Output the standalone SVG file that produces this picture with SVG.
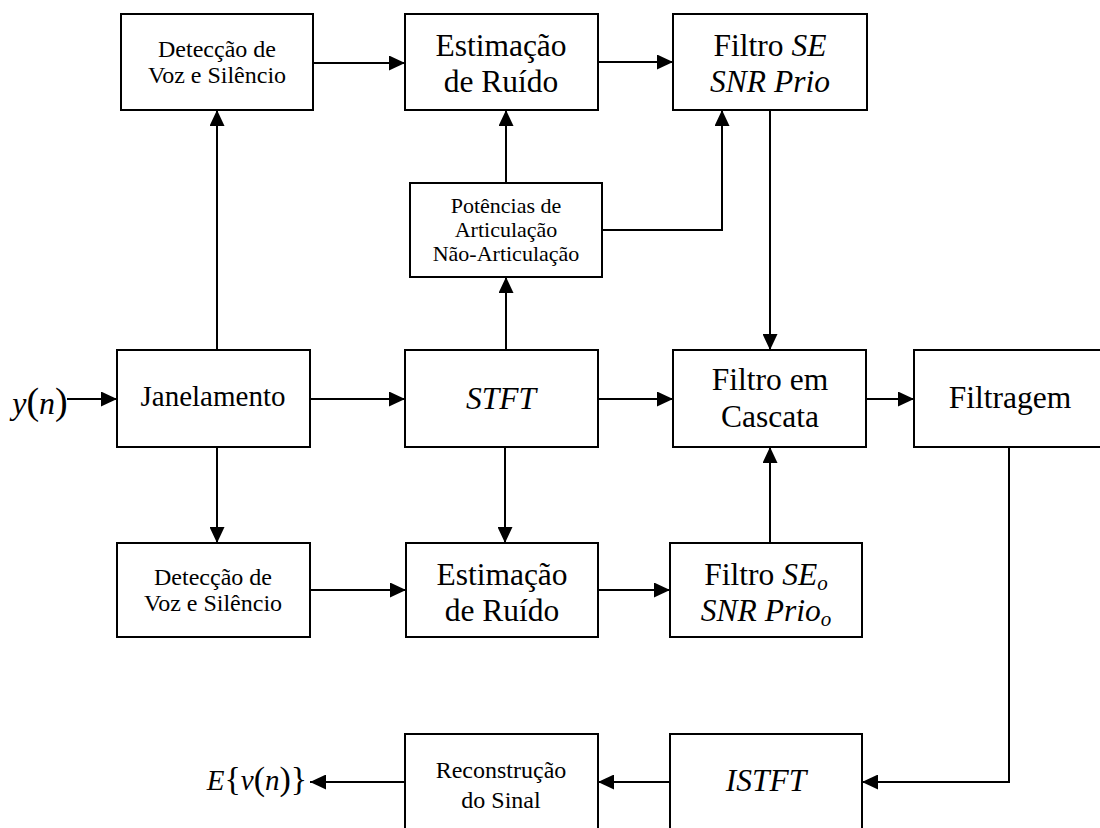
<svg xmlns="http://www.w3.org/2000/svg" width="1100" height="828" viewBox="0 0 1100 828">
  <defs>
    <marker id="arrow" markerUnits="userSpaceOnUse" markerWidth="16" markerHeight="15" refX="16" refY="7.5" orient="auto">
      <path d="M0,0 L16,7.5 L0,15 Z" fill="#000"/>
    </marker>
  </defs>

  <rect width="1100" height="828" fill="#fff"/>

  <!-- connectors: all 2px black with a filled arrowhead at the end -->
  <g id="connectors" fill="none" stroke="#000" stroke-width="2" marker-end="url(#arrow)">
    <line x1="67" y1="399" x2="117" y2="399"/>
    <line x1="310" y1="399" x2="405" y2="399"/>
    <line x1="598" y1="399" x2="673" y2="399"/>
    <line x1="866" y1="399" x2="914" y2="399"/>
    <line x1="217" y1="350" x2="217" y2="110"/>
    <line x1="217" y1="447" x2="217" y2="543"/>
    <line x1="313" y1="63" x2="405" y2="63"/>
    <line x1="598" y1="62" x2="673" y2="62"/>
    <line x1="506" y1="183" x2="506" y2="110"/>
    <line x1="506" y1="350" x2="506" y2="277"/>
    <polyline points="602,230 722,230 722,110"/>
    <line x1="770" y1="110" x2="770" y2="350"/>
    <line x1="505" y1="447" x2="505" y2="543"/>
    <line x1="310" y1="590" x2="406" y2="590"/>
    <line x1="598" y1="590" x2="670" y2="590"/>
    <line x1="770" y1="543" x2="770" y2="447"/>
    <polyline points="1009,447 1009,782 862,782"/>
    <line x1="670" y1="782" x2="598" y2="782"/>
    <line x1="405" y1="782" x2="310" y2="782"/>
  </g>

  <!-- signal in / estimate out -->
  <g id="input">
    <text font-family="Liberation Serif" text-anchor="middle" font-style="italic" font-size="32" x="40" y="414">y<tspan font-style="normal" font-size="38">(</tspan>n<tspan font-style="normal" font-size="38">)</tspan></text>
  </g>
  <g id="output">
    <text font-family="Liberation Serif" text-anchor="middle" font-style="italic" font-size="29" x="257" y="790">E<tspan font-style="normal" font-size="34">{</tspan>v<tspan font-style="normal" font-size="34">(</tspan>n<tspan font-style="normal" font-size="34">)}</tspan></text>
  </g>

  <!-- blocks: white boxes with 2px black outline -->
  <g id="vad-top">
    <rect fill="#fff" stroke="#000" stroke-width="2" x="121" y="14" width="192" height="96"/>
    <text font-family="Liberation Serif" text-anchor="middle" font-size="24" x="217" y="57">Detecção de</text>
    <text font-family="Liberation Serif" text-anchor="middle" font-size="24" x="217" y="83">Voz e Silêncio</text>
  </g>
  <g id="noise-top">
    <rect fill="#fff" stroke="#000" stroke-width="2" x="405" y="14" width="193" height="96"/>
    <text font-family="Liberation Serif" text-anchor="middle" font-size="31.5" x="501" y="56">Estimação</text>
    <text font-family="Liberation Serif" text-anchor="middle" font-size="31.5" x="501" y="92">de Ruído</text>
  </g>
  <g id="filter-se">
    <rect fill="#fff" stroke="#000" stroke-width="2" x="673" y="14" width="194" height="96"/>
    <text font-family="Liberation Serif" text-anchor="middle" font-size="31.5" x="770" y="56">Filtro <tspan font-style="italic">SE</tspan></text>
    <text font-family="Liberation Serif" text-anchor="middle" font-size="31.5" font-style="italic" x="770" y="92">SNR Prio</text>
  </g>
  <g id="powers">
    <rect fill="#fff" stroke="#000" stroke-width="2" x="410" y="183" width="192" height="94"/>
    <text font-family="Liberation Serif" text-anchor="middle" font-size="22" x="506" y="213">Potências de</text>
    <text font-family="Liberation Serif" text-anchor="middle" font-size="22" x="506" y="237">Articulação</text>
    <text font-family="Liberation Serif" text-anchor="middle" font-size="22" x="506" y="261">Não-Articulação</text>
  </g>
  <g id="windowing">
    <rect fill="#fff" stroke="#000" stroke-width="2" x="117" y="350" width="193" height="97"/>
    <text font-family="Liberation Serif" text-anchor="middle" font-size="29" x="213" y="406">Janelamento</text>
  </g>
  <g id="stft">
    <rect fill="#fff" stroke="#000" stroke-width="2" x="405" y="350" width="193" height="97"/>
    <text font-family="Liberation Serif" text-anchor="middle" font-size="31.5" font-style="italic" x="501" y="409">STFT</text>
  </g>
  <g id="cascade">
    <rect fill="#fff" stroke="#000" stroke-width="2" x="673" y="350" width="193" height="97"/>
    <text font-family="Liberation Serif" text-anchor="middle" font-size="31.5" x="770" y="390">Filtro em</text>
    <text font-family="Liberation Serif" text-anchor="middle" font-size="31.5" x="770" y="427">Cascata</text>
  </g>
  <g id="filtering">
    <rect fill="#fff" stroke="#000" stroke-width="2" x="914" y="350" width="193" height="97"/>
    <text font-family="Liberation Serif" text-anchor="middle" font-size="31.5" x="1010" y="408">Filtragem</text>
  </g>
  <g id="vad-bottom">
    <rect fill="#fff" stroke="#000" stroke-width="2" x="117" y="543" width="193" height="94"/>
    <text font-family="Liberation Serif" text-anchor="middle" font-size="24" x="213" y="585">Detecção de</text>
    <text font-family="Liberation Serif" text-anchor="middle" font-size="24" x="213" y="611">Voz e Silêncio</text>
  </g>
  <g id="noise-bottom">
    <rect fill="#fff" stroke="#000" stroke-width="2" x="406" y="543" width="192" height="94"/>
    <text font-family="Liberation Serif" text-anchor="middle" font-size="31.5" x="502" y="585">Estimação</text>
    <text font-family="Liberation Serif" text-anchor="middle" font-size="31.5" x="502" y="621">de Ruído</text>
  </g>
  <g id="filter-se-o">
    <rect fill="#fff" stroke="#000" stroke-width="2" x="670" y="543" width="192" height="94"/>
    <text font-family="Liberation Serif" text-anchor="middle" font-size="31.5" x="766" y="585">Filtro <tspan font-style="italic">SE<tspan font-size="21" dy="5">o</tspan></tspan></text>
    <text font-family="Liberation Serif" text-anchor="middle" font-size="31.5" font-style="italic" x="766" y="621">SNR Prio<tspan font-size="21" dy="5">o</tspan></text>
  </g>
  <g id="istft">
    <rect fill="#fff" stroke="#000" stroke-width="2" x="670" y="734" width="192" height="100"/>
    <text font-family="Liberation Serif" text-anchor="middle" font-size="31.5" font-style="italic" x="766" y="791">ISTFT</text>
  </g>
  <g id="reconstruction">
    <rect fill="#fff" stroke="#000" stroke-width="2" x="405" y="734" width="193" height="100"/>
    <text font-family="Liberation Serif" text-anchor="middle" font-size="24" x="501" y="778">Reconstrução</text>
    <text font-family="Liberation Serif" text-anchor="middle" font-size="24" x="501" y="808">do Sinal</text>
  </g>
</svg>
